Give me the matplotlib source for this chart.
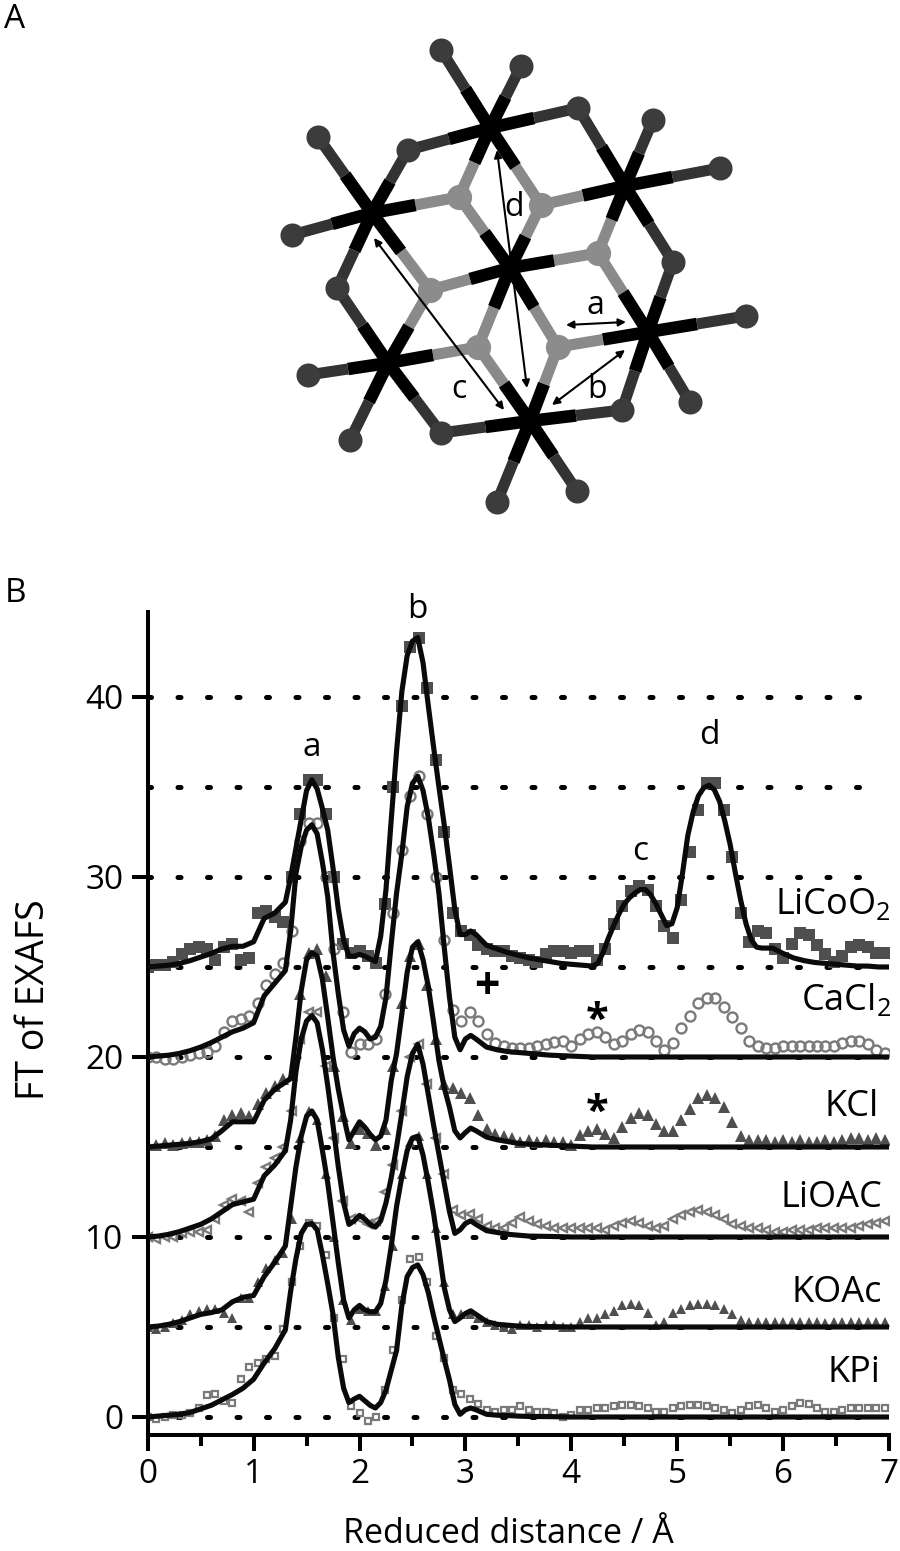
import numpy as np
import matplotlib
matplotlib.use('Agg')
import matplotlib.pyplot as plt

plt.rcParams['font.family'] = ['Open Sans', 'DejaVu Sans']
plt.rcParams['mathtext.default'] = 'regular'

# fit curves, shared x grid up to 3.1
r_head = [0, .1, .2, .3, .4, .5, .6, .7, .8, .9, 1.0, 1.1, 1.2, 1.3,
          1.35, 1.4, 1.45, 1.5, 1.55, 1.6, 1.65, 1.7, 1.75, 1.8, 1.85, 1.9, 1.95, 2.0, 2.05, 2.1, 2.15, 2.2, 2.25, 2.3,
          2.35, 2.4, 2.45, 2.5, 2.55, 2.6, 2.65, 2.7, 2.75, 2.8, 2.85, 2.9, 2.95, 3.0, 3.05, 3.1]
r_tail_long = [3.2, 3.3, 3.4, 3.5, 3.6, 3.7, 3.8, 3.9, 4.0, 4.1, 4.2,
               4.25, 4.3, 4.35, 4.4, 4.45, 4.5, 4.55, 4.6, 4.65, 4.7, 4.75, 4.8, 4.85, 4.9, 4.95, 5.0,
               5.05, 5.1, 5.15, 5.2, 5.25, 5.3, 5.35, 5.4, 5.45, 5.5, 5.55, 5.6, 5.65, 5.7, 5.75, 5.8,
               5.9, 6.0, 6.1, 6.2, 6.3, 6.4, 6.5, 6.6, 6.7, 6.8, 6.9, 7.0]
r_tail_flat = [3.2, 3.3, 3.4, 3.5, 3.6, 3.8, 4.0, 4.2, 7.0]

fit_licoo2 = [25, 25.05, 25.1, 25.2, 25.35, 25.55, 25.75, 26, 26.15, 26.15, 26.4, 27.7, 28, 28.6,
              30, 31.6, 33.2, 34.8, 35.4, 34.9, 33.8, 32.6, 30.5, 28.2, 26.5, 25.6, 25.6, 25.7, 25.6, 25.45, 25.3, 26.7, 29.3, 33.2,
              37, 40.3, 42.3, 43.1, 43.3, 41.9, 39.5, 37.2, 35, 32.9, 30.6, 28.2, 26.8, 26.8, 27, 26.8,
              26.2, 26, 25.8, 25.65, 25.5, 25.4, 25.3, 25.2, 25.15, 25.1, 25.05,
              25.2, 25.8, 26.6, 27.3, 27.95, 28.5, 28.85, 29.1, 29.3, 29.3, 29, 28.5, 27.9, 27.3, 27.4, 28.3,
              30.2, 32.3, 33.6, 34.5, 34.95, 35.1, 34.85, 34.2, 33.1, 31.8, 30.2, 28.7, 27.4, 26.5, 26.1, 26.05,
              26.05, 25.75, 25.5, 25.35, 25.25, 25.2, 25.15, 25.1, 25.05, 25.05, 25, 25]
fit_cacl2 = [20, 20.05, 20.1, 20.2, 20.35, 20.55, 20.8, 21.1, 21.4, 21.6, 21.9, 23.4, 24.1, 24.8,
             27, 30.2, 31.7, 32.6, 32.9, 32.4, 30.8, 28.9, 25.8, 23.5, 21.5, 20.6, 21.3, 21.6, 21.4, 21, 21.1, 21.7, 23.3, 26.3,
             29.1, 31.3, 33.9, 35.2, 35.6, 34.8, 33.3, 31.3, 29.1, 26.1, 23.3, 21.1, 20.4, 21, 21.2, 21,
             20.55, 20.4, 20.3, 20.25, 20.2, 20.1, 20.05, 20, 20]
fit_kcl = [15, 15.05, 15.1, 15.15, 15.2, 15.3, 15.45, 15.9, 16.4, 16.4, 16.4, 17.6, 18.2, 18.6,
           18.8, 21.1, 23.7, 25.4, 25.8, 25.6, 24.3, 22.2, 20, 18.2, 16.7, 15.4, 15.9, 16.4, 16.1, 15.7, 15.4, 15.6, 16.5, 18.7,
           20.2, 22.4, 24.7, 26.1, 26.4, 25.4, 23.9, 21.9, 19.8, 18.3, 17.2, 15.9, 15.5, 15.8, 16.05, 15.9,
           15.55, 15.4, 15.3, 15.2, 15.15, 15.1, 15.05, 15, 15]
fit_lioac = [10, 10.05, 10.15, 10.3, 10.5, 10.7, 11, 11.4, 11.8, 11.95, 12.1, 13.4, 14, 14.8,
             16.5, 19.2, 21, 22, 22.3, 21.9, 20.4, 18.4, 16.2, 13.9, 11.9, 10.7, 10.9, 11.2, 11, 10.7, 10.55, 10.9, 11.9, 13.3,
             15, 16.9, 18.9, 20.2, 20.7, 19.6, 17.9, 16.2, 14.6, 13, 11.4, 10.2, 10.4, 10.75, 10.9, 10.7,
             10.35, 10.25, 10.15, 10.1, 10.05, 10.03, 10, 10, 10]
fit_koac = [5, 5.05, 5.15, 5.3, 5.5, 5.7, 5.8, 5.95, 6.4, 6.65, 6.75, 7.8, 8.6, 9.5,
            11.7, 13.9, 15.6, 16.7, 17, 16.5, 14.8, 13, 10.8, 8.55, 6.5, 5.5, 5.95, 6.2, 5.95, 5.85, 5.85, 6.3, 7.6, 9.5,
            11.7, 13.35, 14.8, 15.5, 15.6, 14.55, 13, 11.3, 9.3, 7.2, 5.95, 5.3, 5.5, 5.75, 5.9, 5.7,
            5.3, 5.15, 5.1, 5.05, 5.03, 5.02, 5, 5, 5]
fit_kpi = [0, .05, .1, .15, .25, .45, .65, .95, 1.25, 1.6, 2.1, 3, 3.8, 4.85,
           7, 8.8, 10.2, 10.7, 10.75, 10.4, 9, 7.4, 5.7, 3.3, 1.6, .8, 1, 1.15, .9, .65, .5, .8, 1.5, 2.6,
           3.7, 6.2, 7.8, 8.3, 8.45, 7.9, 6.9, 5.6, 4.4, 3.2, 2.05, .7, .15, .4, .5, .4,
           .15, .1, .08, .05, .03, .02, 0, 0, 0]

# measured points, one every 0.08 A
r_pts = np.arange(88) * 0.08

pts_licoo2 = [25, 25.1, 25.1, 25.3, 25.7, 26, 26.1, 26, 25.4, 26.1, 26.3,
              25.4, 25.5, 28, 28.1, 27.8, 27.5, 30, 33.5, 35.4, 35.4, 33.5,
              30, 26.3, 25.8, 25.9, 25.6, 25.2, 28.5, 35, 39.5, 42.8, 43.3,
              40.5, 36.5, 32.5, 28, 27, 26.8, 26.2, 26, 25.9, 25.9, 25.6,
              25.5, 25.4, 25.3, 25.7, 25.9, 25.9, 25.8, 25.9, 25.9, 25.4, 26,
              27.4, 28.4, 29.2, 29.5, 29.3, 28.4, 27.3, 26.6, 28.7, 31.4, 33.7,
              35.2, 35.2, 33.7, 31.1, 28, 26.4, 27, 26.9, 26, 25.5, 26.3,
              26.9, 26.8, 26.2, 25.7, 25.3, 25.6, 26.1, 26.2, 26.1, 25.8, 25.8]
pts_cacl2 = [20, 20, 19.9, 19.9, 20, 20.1, 20.2, 20.3, 20.6, 21.4, 22,
             22.1, 22.3, 23, 24, 24.6, 25.2, 27, 32, 33, 33, 30,
             26, 22.5, 20.3, 20.7, 20.7, 21, 23.5, 28, 31.5, 34.5, 35.6,
             33.5, 30, 26.5, 22.6, 22, 22.5, 22, 21.3, 20.8, 20.6, 20.5,
             20.5, 20.5, 20.6, 20.7, 20.85, 20.9, 20.6, 21, 21.3, 21.4, 21.1,
             20.7, 20.9, 21.3, 21.5, 21.4, 20.9, 20.4, 20.8, 21.6, 22.3, 23,
             23.3, 23.3, 22.8, 22.2, 21.6, 20.9, 20.6, 20.5, 20.5, 20.6, 20.6,
             20.6, 20.6, 20.6, 20.6, 20.6, 20.8, 20.9, 20.9, 20.7, 20.4, 20.2]
pts_kcl = [15.1, 15.1, 15.2, 15.1, 15.2, 15.3, 15.3, 15.4, 15.6, 16.5, 16.8,
           16.9, 16.7, 17.4, 18, 18.4, 18.8, 19, 23.5, 25.8, 26, 24.5,
           19.5, 16.7, 15.2, 16, 15.8, 15.1, 16, 19.5, 23, 25.6, 26.3,
           24, 21, 18.5, 18.3, 18, 17.7, 16.8, 16, 15.7, 15.6, 15.5,
           15.3, 15.4, 15.3, 15.4, 15.3, 15.3, 15.1, 15.65, 15.9, 16, 15.7,
           15.5, 16.1, 16.6, 16.9, 16.8, 16.3, 15.9, 15.9, 16.5, 17.1, 17.7,
           17.9, 17.7, 17.2, 16.4, 15.6, 15.4, 15.4, 15.4, 15.3, 15.4, 15.3,
           15.4, 15.3, 15.3, 15.4, 15.3, 15.4, 15.5, 15.5, 15.4, 15.5, 15.4]
pts_lioac = [10, 9.9, 10, 10, 10.2, 10.3, 10.3, 10.4, 11, 11.8, 12.1,
             12, 11.4, 13, 13.9, 14.4, 15, 17, 21, 22.5, 22.5, 19.5,
             15.5, 12, 11, 11, 10.7, 10.9, 12.5, 14, 17, 20, 20.7,
             18.5, 15.5, 13.5, 11.5, 11.2, 11.3, 11, 10.6, 10.5, 10.5, 10.8,
             11.1, 10.9, 10.7, 10.6, 10.5, 10.5, 10.5, 10.5, 10.5, 10.5, 10.4,
             10.6, 10.8, 10.9, 10.8, 10.6, 10.5, 10.6, 11, 11.2, 11.4, 11.5,
             11.4, 11.2, 11, 10.7, 10.6, 10.5, 10.5, 10.4, 10.3, 10.3, 10.4,
             10.4, 10.4, 10.5, 10.5, 10.5, 10.5, 10.5, 10.6, 10.7, 10.8, 10.9]
pts_koac = [5, 4.9, 5, 5.2, 5.4, 5.7, 5.9, 6, 6, 5.8, 5.5,
            6.6, 6.6, 7.5, 8.3, 8.7, 9.1, 11, 15.5, 17, 16.5, 13.5,
            10, 6.5, 5.4, 6, 5.9, 5.9, 7.3, 9.5, 13.5, 15.3, 15.6,
            13.5, 10.5, 7.5, 5.7, 5.7, 5.7, 5.5, 5.3, 5.1, 5, 4.9,
            5.1, 5.1, 5, 5.1, 5.1, 5, 5, 5.3, 5.5, 5.5, 5.7,
            5.9, 6.2, 6.3, 6.2, 5.8, 5.1, 5.3, 5.8, 6, 6.2, 6.3,
            6.3, 6.2, 6, 5.7, 5.4, 5.3, 5.3, 5.3, 5.3, 5.3, 5.3,
            5.3, 5.3, 5.3, 5.2, 5.3, 5.3, 5.3, 5.3, 5.3, 5.3, 5.3]
pts_kpi = [0, -.1, 0, .1, .1, .2, .5, 1.2, 1.3, .9, .8,
           2.1, 2.8, 3, 3.2, 3.4, 4.9, 7.5, 9.5, 10.8, 10.6, 9,
           5.5, 3.2, .6, .2, -.2, 0, 1.5, 3.7, 6.5, 8.8, 8.9,
           7.5, 4.5, 3.3, 1.5, 1.3, 1, .7, .4, .3, .4, .4,
           .6, .4, .3, .3, .2, 0, .1, .4, .4, .5, .5,
           .6, .65, .65, .6, .5, .3, .3, .5, .6, .65, .65,
           .6, .5, .4, .2, .4, .6, .65, .5, .3, .4, .6,
           .75, .7, .5, .3, .3, .4, .5, .5, .5, .5, .5]

dotted_levels = [0, 5, 10, 15, 20, 25, 30, 35, 40]
y_ticks = [0, 10, 20, 30, 40]
x_ticks = [0, 1, 2, 3, 4, 5, 6, 7]

# structure in panel A, in picture pixels
co_atoms = [(490, 128), (372, 213), (625, 186), (510, 268), (388, 363), (648, 332), (530, 421)]
o_dark = [(441, 50), (521, 66), (318, 137), (292, 235), (308, 375), (350, 440), (497, 502), (577, 491),
          (690, 402), (746, 316), (720, 168), (653, 120), (408, 150), (578, 108), (337, 288), (673, 262),
          (441, 433), (622, 410)]
o_light = [(459, 197), (541, 205), (598, 253), (430, 290), (478, 347), (558, 347)]
co_neighbours = [
    [(441, 50), (521, 66), (408, 150), (578, 108), (459, 197), (541, 205)],
    [(318, 137), (292, 235), (337, 288), (408, 150), (459, 197), (430, 290)],
    [(653, 120), (720, 168), (578, 108), (541, 205), (598, 253), (673, 262)],
    [(459, 197), (541, 205), (598, 253), (430, 290), (478, 347), (558, 347)],
    [(337, 288), (430, 290), (478, 347), (308, 375), (350, 440), (441, 433)],
    [(598, 253), (673, 262), (558, 347), (746, 316), (690, 402), (622, 410)],
    [(441, 433), (622, 410), (478, 347), (558, 347), (497, 502), (577, 491)],
]
arrows = [((497, 150), (527, 388)), ((374, 238), (504, 410)), ((566, 325), (626, 322)), ((552, 405), (625, 350))]
arrow_names = [('d', 514, 208), ('c', 459, 390), ('a', 595, 305), ('b', 597, 390)]

W, H = 900, 1551
fig = plt.figure(figsize=(W / 100, H / 100), dpi=100)

# panel A
top = fig.add_axes([0, 0, 1, 1])
top.set_xlim(0, W)
top.set_ylim(H, 0)
top.axis('off')
for co, nbrs in zip(co_atoms, co_neighbours):
    for n in nbrs:
        mid = ((co[0] + n[0]) / 2, (co[1] + n[1]) / 2)
        col = '#8a8a8a' if n in o_light else '#333333'
        top.plot([mid[0], n[0]], [mid[1], n[1]], color=col, lw=8, solid_capstyle='butt', zorder=2)
        top.plot([co[0], mid[0]], [co[1], mid[1]], color='black', lw=9, solid_capstyle='butt', zorder=3)
top.scatter(*zip(*co_atoms), s=230, color='black', zorder=4, linewidths=0)
top.scatter(*zip(*o_dark), s=300, color='#3c3c3c', zorder=4, linewidths=0)
top.scatter(*zip(*o_light), s=330, color='#8c8c8c', zorder=4, linewidths=0)
for start, end in arrows:
    top.annotate('', xy=end, xytext=start, zorder=6,
                 arrowprops=dict(arrowstyle='<|-|>', color='black', lw=1.5, mutation_scale=11, shrinkA=0, shrinkB=0))
for name, px, py in arrow_names:
    top.text(px, py, name, fontsize=23, ha='center', va='center', color='black', zorder=7)
top.text(15, 20, 'A', fontsize=24, ha='center', va='center')
top.text(15, 593, 'B', fontsize=24, ha='center', va='center')

# panel B
ax = fig.add_axes([147.7 / W, 1 - 1435 / H, (889 - 147.7) / W, (1435 - 612) / H])
ax.patch.set_alpha(0)
ax.set_xlim(0, 7)
ax.set_ylim(-1, 44.72)

for lev in dotted_levels:
    ax.plot([0, 6.95], [lev, lev], color='black', lw=3.6, dash_capstyle='round',
            linestyle=(0, (0.6, 5.3)), zorder=1)

grey_dark = '#4f4f4f'
grey_mid = '#7a7a7a'
ax.plot(r_pts, pts_licoo2, 's', ms=8.5, color=grey_dark, mew=0, zorder=2)
ax.plot(r_pts, pts_cacl2, 'o', ms=7.2, mfc='none', mec=grey_mid, mew=1.7, zorder=2)
ax.plot(r_pts, pts_kcl, '^', ms=9, color=grey_dark, mew=0, zorder=2)
ax.plot(r_pts, pts_lioac, '<', ms=5.5, mfc='none', mec=grey_mid, mew=1.7, zorder=2)
ax.plot(r_pts, pts_koac, '^', ms=7.5, color=grey_dark, mew=0, zorder=2)
ax.plot(r_pts, pts_kpi, 's', ms=5, mfc='none', mec=grey_mid, mew=1.6, zorder=2)

line_kw = dict(color='#0a0a0a', lw=3.7, solid_joinstyle='round', zorder=3)
ax.plot(r_head + r_tail_long, fit_licoo2, **line_kw)
for fit in [fit_cacl2, fit_kcl, fit_lioac, fit_koac, fit_kpi]:
    ax.plot(r_head + r_tail_flat, fit, **line_kw)

for side in ['top', 'right']:
    ax.spines[side].set_visible(False)
for side in ['left', 'bottom']:
    ax.spines[side].set_linewidth(2.9)
ax.set_xticks(x_ticks)
ax.set_xticks([.5, 1.5, 2.5, 3.5, 4.5, 5.5, 6.5], minor=True)
ax.set_yticks(y_ticks)
ax.tick_params(axis='x', which='major', length=11.5, width=2.9, labelsize=24, pad=5)
ax.tick_params(axis='x', which='minor', length=8, width=2.9)
ax.tick_params(axis='y', which='major', length=11.5, width=2.9, labelsize=24, pad=6)

fig.text(508 / W, 1 - 1534 / H, 'Reduced distance / Å', fontsize=24.5, ha='center', va='center')
fig.text(34 / W, 1 - 1000 / H, 'FT of EXAFS', fontsize=27, rotation=90, ha='center', va='center')

# series names and peak labels, in picture pixels
series_names = [('LiCoO$_2$', 891, 905), ('CaCl$_2$', 891, 1000), ('KCl', 879, 1107),
                ('LiOAC', 882, 1198), ('KOAc', 882, 1293), ('KPi', 880, 1373)]
for name, px, py in series_names:
    top.text(px, py, name, fontsize=26, ha='right', va='center', zorder=8)
peak_names = [('a', 312, 747), ('b', 417, 610), ('c', 640, 851), ('d', 709, 736)]
for name, px, py in peak_names:
    top.text(px, py, name, fontsize=24, ha='center', va='center', zorder=8)
top.text(487, 987, '+', fontsize=32, fontweight='bold', ha='center', va='center', zorder=8)
top.text(597, 1021, '*', fontsize=30, fontweight='bold', ha='center', va='center', zorder=8)
top.text(597, 1113, '*', fontsize=30, fontweight='bold', ha='center', va='center', zorder=8)

fig.savefig('out.png', dpi=100)
